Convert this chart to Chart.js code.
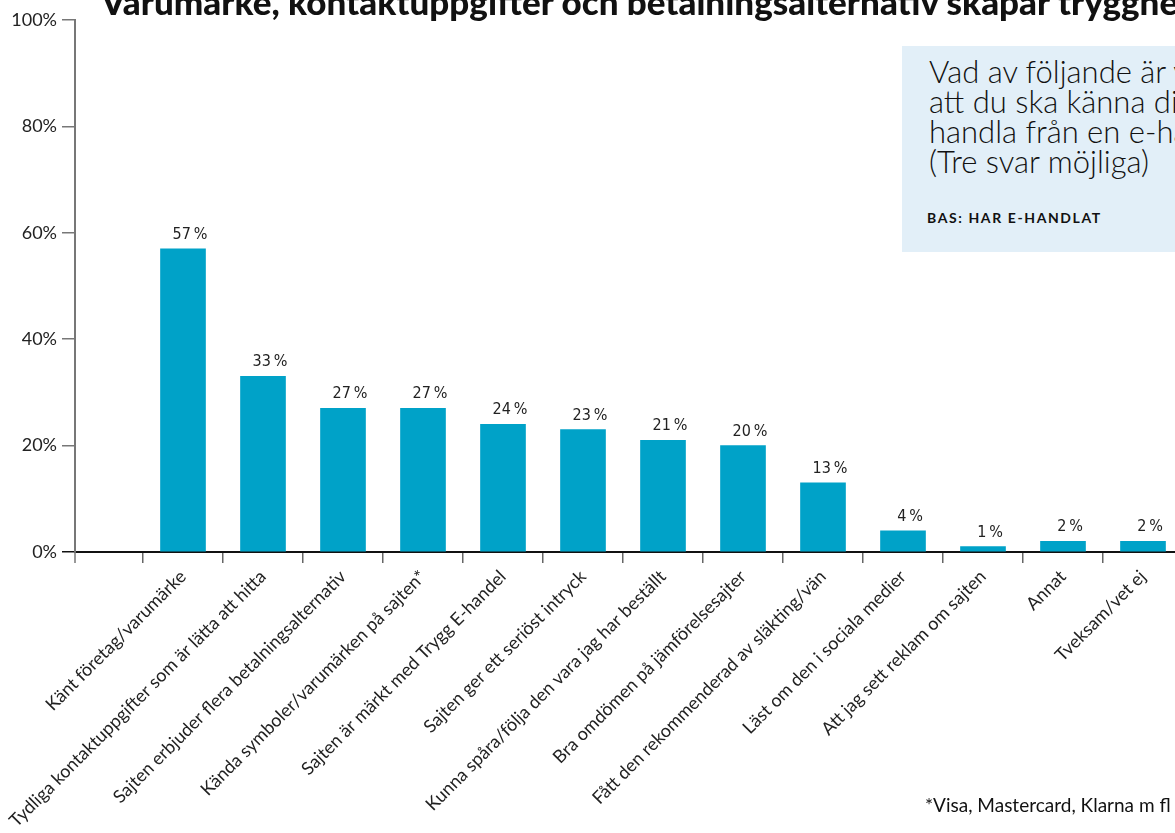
<!DOCTYPE html>
<html lang="sv">
<head>
<meta charset="utf-8">
<title>Trygghet vid e-handel</title>
<script src="https://cdn.jsdelivr.net/npm/chart.js@4.4.1/dist/chart.umd.min.js"></script>
<style>
  html, body { margin: 0; padding: 0; background: #fff; }
  #wrap { position: relative; width: 1175px; height: 833px; overflow: hidden; }
  #chart-box { position: absolute; left: 0; top: 0; width: 1200px; height: 833px; }
  h1 {
    position: absolute; left: 101px; top: -16px; margin: 0;
    font: 900 35px/34px Lato, sans-serif; color: #111; white-space: nowrap;
  }
  .question {
    position: absolute; left: 902px; top: 46px; width: 320px; height: 206px;
    background: #e2eff8;
  }
  .question .q {
    position: absolute; left: 27px; top: 10px; white-space: nowrap;
    font: 300 31px/30px Lato, sans-serif; color: #111;
  }
  .question .bas {
    position: absolute; left: 25px; top: 165px; white-space: nowrap;
    font: 700 14px/13px Lato, sans-serif; letter-spacing: 1.6px; color: #111;
  }
  .note {
    position: absolute; left: 925px; top: 795px; white-space: nowrap;
    font: 400 19px/19px Lato, sans-serif; color: #111;
  }
</style>
</head>
<body>
<div id="wrap">
  <div id="chart-box"><canvas id="trygg_chart"></canvas></div>
  <h1>Varumärke, kontaktuppgifter och betalningsalternativ skapar trygghet</h1>
  <div class="question">
    <div class="q">Vad av följande är viktigast för<br>att du ska känna dig trygg med att<br>handla från en e-handelssajt?<br>(Tre svar möjliga)</div>
    <div class="bas">BAS: HAR E-HANDLAT</div>
  </div>
  <div class="note">*Visa, Mastercard, Klarna m fl</div>
</div>
<script>
const categories = [
  "Känt företag/varumärke",
  "Tydliga kontaktuppgifter som är lätta att hitta",
  "Sajten erbjuder flera betalningsalternativ",
  "Kända symboler/varumärken på sajten*",
  "Sajten är märkt med Trygg E-handel",
  "Sajten ger ett seriöst intryck",
  "Kunna spåra/följa den vara jag har beställt",
  "Bra omdömen på jämförelsesajter",
  "Fått den rekommenderad av släkting/vän",
  "Läst om den i sociala medier",
  "Att jag sett reklam om sajten",
  "Annat",
  "Tveksam/vet ej"
];
const shares = [57, 33, 27, 27, 24, 23, 21, 20, 13, 4, 1, 2, 2];
const yTicks = [0, 20, 40, 60, 80, 100];

// procent-etiketter ovanför staplarna
const valueLabels = {
  id: 'valueLabels',
  afterDatasetsDraw(chart) {
    const ctx = chart.ctx;
    const meta = chart.getDatasetMeta(0);
    ctx.save();
    ctx.font = '16px "DejaVu Sans Condensed", "DejaVu Sans", sans-serif';
    ctx.fillStyle = '#222';
    ctx.textAlign = 'center';
    ctx.textBaseline = 'alphabetic';
    meta.data.forEach((bar, i) => {
      ctx.fillText(shares[i] + '\u2009%', bar.x + 7, bar.y - 10);
    });
    ctx.restore();
  }
};

// y-axeln fortsätter en bit under x-axeln
const axisStub = {
  id: 'axisStub',
  afterDraw(chart) {
    const { ctx, chartArea } = chart;
    ctx.save();
    ctx.strokeStyle = '#777';
    ctx.lineWidth = 1.5;
    ctx.beginPath();
    ctx.moveTo(chartArea.left, chartArea.bottom);
    ctx.lineTo(chartArea.left, chartArea.bottom + 11);
    ctx.stroke();
    ctx.restore();
  }
};

const ctx = document.getElementById('trygg_chart');
const data = {
  datasets: [{
    data: shares.map((v, i) => ({ x: i, y: v })),
    backgroundColor: '#00a2c8',
    barThickness: 45
  }]
};

const config = {
  type: 'bar',
  data: data,
  options: {
    responsive: true,
    maintainAspectRatio: false,
    animation: false,
    layout: { padding: { top: 20, right: 5, left: 0, bottom: 0 } },
    plugins: {
      legend: { display: false },
      tooltip: { enabled: false }
    },
    scales: {
      x: {
        type: 'linear',
        offset: false,
        min: -1.35,
        max: 12.65,
        afterBuildTicks: (s) => { s.ticks = categories.map((c, i) => ({ value: i })); },
        afterFit: (s) => { s.height = 281; s.paddingLeft = 0; s.paddingRight = 0; },
        border: { color: '#111', width: 2 },
        grid: { offset: true, drawOnChartArea: false, tickLength: 11, color: '#666', lineWidth: 1.5 },
        ticks: {
          autoSkip: false,
          minRotation: 45,
          maxRotation: 45,
          padding: 3,
          color: '#222',
          font: { family: 'Lato', size: 18 },
          callback: (v, i) => categories[i] ?? ''
        }
      },
      y: {
        min: 0,
        max: 100,
        afterFit: (s) => { s.width = 75; },
        afterBuildTicks: (s) => { s.ticks = yTicks.map(v => ({ value: v })); },
        border: { color: '#777', width: 2 },
        grid: {
          drawOnChartArea: false,
          tickLength: 13,
          lineWidth: 1.5,
          color: (c) => c.tick && c.tick.value === 0 ? '#111' : '#777'
        },
        ticks: {
          padding: 5,
          color: '#222',
          font: { family: 'Lato', size: 18 },
          callback: (v) => v + '%'
        }
      }
    }
  },
  plugins: [valueLabels, axisStub]
};

window.addEventListener("load", () => {
  new Chart(ctx, config);
});
</script>
</body>
</html>
